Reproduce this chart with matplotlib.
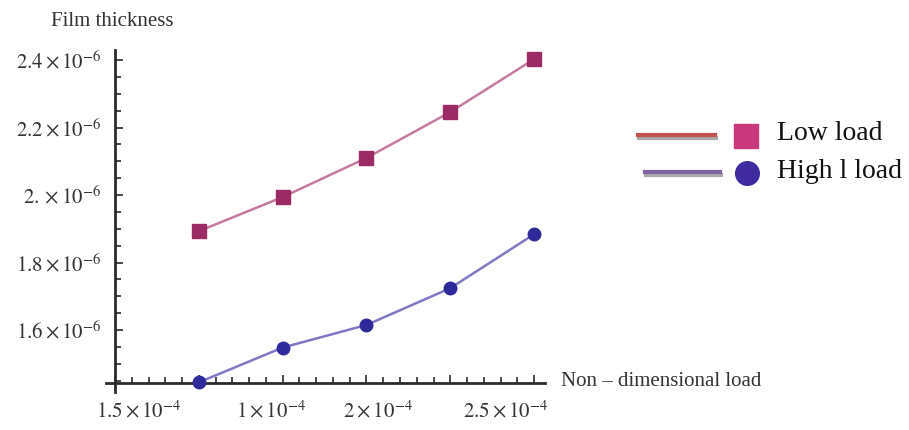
import matplotlib
matplotlib.use("Agg")
import matplotlib.pyplot as plt
from matplotlib.lines import Line2D
from matplotlib.ticker import MultipleLocator
import matplotlib.patheffects as pe

plt.rcParams['font.family'] = ['Liberation Serif', 'DejaVu Serif']
plt.rcParams['mathtext.fontset'] = 'stix'

# Data (x in units of 1e-4, y in units of 1e-6)
x_vals = [0.5, 1.0, 1.5, 2.0, 2.5]
low_load = [1.893, 1.994, 2.110, 2.246, 2.403]
high_load = [1.445, 1.548, 1.615, 1.724, 1.884]

y_ticks = [1.6, 1.8, 2.0, 2.2, 2.4]
y_tick_labels = [r'$1.6\times10^{-6}$', r'$1.8\times10^{-6}$', r'$2.\times10^{-6}$',
                 r'$2.2\times10^{-6}$', r'$2.4\times10^{-6}$']
x_label_pos = [0.143, 0.93, 1.57, 2.33]
x_tick_labels = [r'$1.5\times10^{-4}$', r'$1\times10^{-4}$', r'$2\times10^{-4}$', r'$2.5\times10^{-4}$']

fig = plt.figure(figsize=(9.09, 4.30), dpi=100)
ax = fig.add_axes([115/909, 1 - 383/430, (545-115)/909, (383-50)/430])

low_line_c = '#c47a9e'
low_mark_c = '#9c2a64'
high_line_c = '#7f78c4'
high_mark_c = '#2e2a9c'

ax.plot(x_vals, low_load, color=low_line_c, lw=1.8, zorder=3)
ax.plot(x_vals, low_load, ls='none', marker='s', ms=9.5, color=low_mark_c,
        mec=low_mark_c, zorder=4, clip_on=False)
ax.plot(x_vals, high_load, color=high_line_c, lw=1.8, zorder=3)
ax.plot(x_vals, high_load, ls='none', marker='o', ms=9, color=high_mark_c,
        mec=high_mark_c, zorder=4, clip_on=False)

ax.set_xlim(0, 2.565)
ax.set_ylim(1.443, 2.43)

for s in ax.spines.values():
    s.set_visible(False)
axis_c = '#2a2a2a'
ax.add_line(Line2D([-0.022, 1.0], [0, 0], transform=ax.transAxes, color=axis_c,
                   lw=2, clip_on=False, zorder=2))
ax.add_line(Line2D([0, 0], [-0.027, 1.0], transform=ax.transAxes, color=axis_c,
                   lw=2, clip_on=False, zorder=2))

ax.xaxis.set_major_locator(MultipleLocator(0.5))
ax.xaxis.set_minor_locator(MultipleLocator(0.1))
ax.set_yticks(y_ticks)
ax.yaxis.set_minor_locator(MultipleLocator(0.05))
ax.set_yticklabels(y_tick_labels, fontsize=15, color='#333333')
ax.tick_params(axis='x', which='major', direction='in', length=6, width=1.2,
               color=axis_c, labelbottom=False)
ax.tick_params(axis='x', which='minor', direction='in', length=4, width=1.2, color=axis_c)
ax.tick_params(axis='y', which='major', direction='in', length=6, width=1.2,
               color=axis_c, pad=10)
ax.tick_params(axis='y', which='minor', direction='in', length=4, width=1.2, color=axis_c)

trans = ax.get_xaxis_transform()
for xp, lab in zip(x_label_pos, x_tick_labels):
    ax.text(xp, -0.085, lab, transform=trans, ha='center', va='center',
            fontsize=15, color='#333333')

fig.text(112/909, 1 - 21/430, 'Film thickness', ha='center', va='center',
         fontsize=15, color='#333333')
fig.text(561/909, 1 - 382/430, 'Non \u2013 dimensional load', ha='left', va='center',
         fontsize=15, color='#333333')

# Legend
shadow = [pe.SimpleLineShadow(offset=(1, -2), alpha=0.45, shadow_color='#444444'), pe.Normal()]
fig.add_artist(Line2D([638/909, 715/909], [1 - 135/430, 1 - 135/430], transform=fig.transFigure,
                      color='#c0504d', lw=3, path_effects=shadow))
fig.add_artist(Line2D([645/909, 720/909], [1 - 172/430, 1 - 172/430], transform=fig.transFigure,
                      color='#8064a2', lw=3, path_effects=shadow))
fig.add_artist(Line2D([746/909], [1 - 136/430], transform=fig.transFigure, ls='none',
                      marker='s', ms=17, color='#c8387a', mec='#c8387a'))
fig.add_artist(Line2D([747/909], [1 - 173/430], transform=fig.transFigure, ls='none',
                      marker='o', ms=17, color='#3f2a9f', mec='#3f2a9f'))
fig.text(777/909, 1 - 133/430, 'Low load', ha='left', va='center', fontsize=20, color='#111111')
fig.text(777/909, 1 - 171/430, 'High l load', ha='left', va='center', fontsize=20, color='#111111')

fig.savefig('out.png', dpi=100)
